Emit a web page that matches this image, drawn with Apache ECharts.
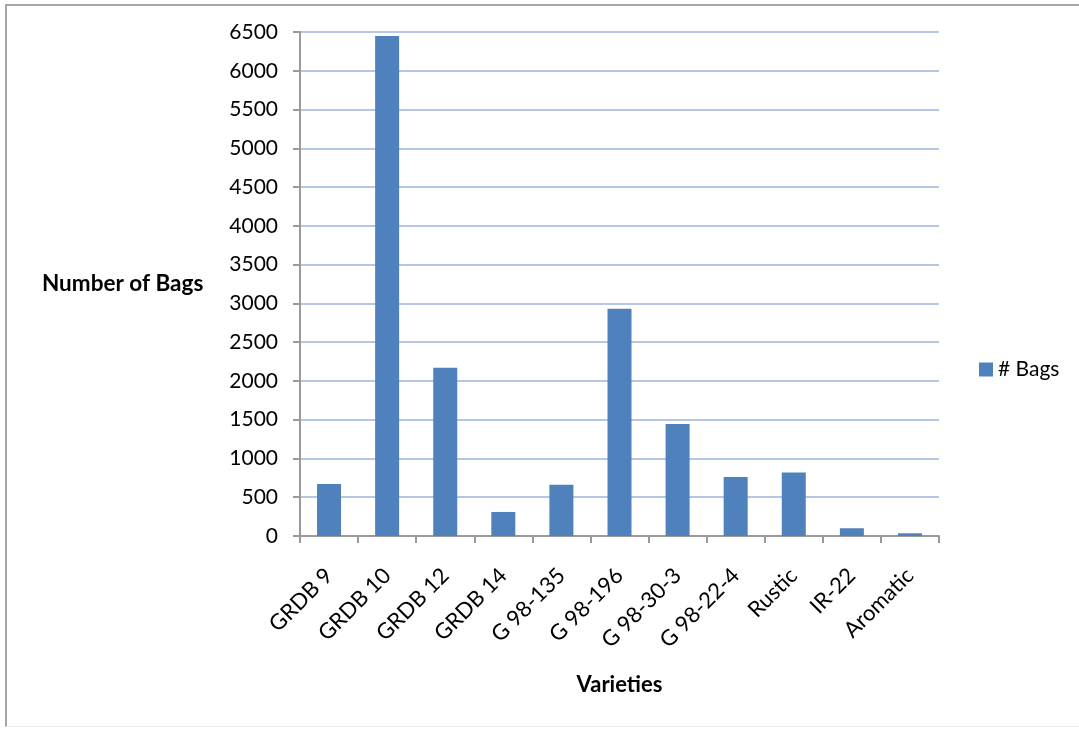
<!DOCTYPE html>
<html>
<head>
<meta charset="utf-8">
<script src="https://cdn.jsdelivr.net/npm/echarts@6/dist/echarts.min.js"></script>
<style>
  html, body { margin: 0; padding: 0; background: #fff; }
  #frame { position: absolute; left: 5px; top: 4px; width: 1080px; height: 723px;
           border-left: 2px solid #a6a6a6; border-top: 2px solid #a6a6a6; border-bottom: 1px solid #eeeeee; box-sizing: border-box; }
  #chart { position: absolute; left: 0; top: 0; width: 1079px; height: 729px; }
</style>
</head>
<body>
<div id="frame"></div>
<div id="chart"></div>
<script>
// Seed bags distributed per rice variety
const varieties = ['GRDB 9', 'GRDB 10', 'GRDB 12', 'GRDB 14', 'G 98-135', 'G 98-196',
                   'G 98-30-3', 'G 98-22-4', 'Rustic', 'IR-22', 'Aromatic'];
const bags = [670, 6450, 2170, 310, 660, 2930, 1445, 760, 820, 100, 35];
const seriesName = '# Bags';
const yAxisTitle = 'Number of Bags';
const xAxisTitle = 'Varieties';

const FONT = 'Lato, "Open Sans", sans-serif';
const chart = echarts.init(document.getElementById('chart'), null, { renderer: 'canvas' });

chart.setOption({
  animation: false,
  backgroundColor: 'transparent',
  textStyle: { fontFamily: FONT },
  grid: { left: 300, right: 140, top: 32, bottom: 193, containLabel: false },
  legend: {
    data: [seriesName],
    left: 974, top: 354,
    itemWidth: 14, itemHeight: 14, icon: 'rect', itemGap: 4,
    textStyle: { fontSize: 21, color: '#000', fontFamily: FONT }
  },
  xAxis: {
    type: 'category',
    data: varieties,
    name: xAxisTitle,
    nameLocation: 'middle',
    nameGap: 138,
    nameTextStyle: { fontSize: 22, fontWeight: 'bold', color: '#000', fontFamily: FONT },
    axisLine: { lineStyle: { color: '#9a9a9a', width: 2 } },
    axisTick: { show: true, alignWithLabel: false, length: 7, lineStyle: { color: '#9a9a9a', width: 2 } },
    axisLabel: { rotate: 45, fontSize: 22, color: '#000', margin: 36, interval: 0, fontFamily: FONT }
  },
  yAxis: {
    type: 'value',
    min: 0, max: 6500, interval: 500,
    axisLine: { show: true, lineStyle: { color: '#9a9a9a', width: 2 } },
    axisTick: { show: true, length: 7, lineStyle: { color: '#9a9a9a', width: 2 } },
    axisLabel: { fontSize: 21, color: '#000', margin: 22, fontFamily: FONT, formatter: v => String(v) },
    splitLine: { show: true, lineStyle: { color: '#b4c7e7', width: 2 } }
  },
  series: [{
    name: seriesName,
    type: 'bar',
    data: bags,
    barWidth: 24,
    itemStyle: { color: '#4f81bd' }
  }],
  graphic: [{
    type: 'text',
    left: 42, top: 272,
    style: { text: yAxisTitle, font: 'bold 22.5px ' + FONT, fill: '#000' }
  }]
});
</script>
</body>
</html>
